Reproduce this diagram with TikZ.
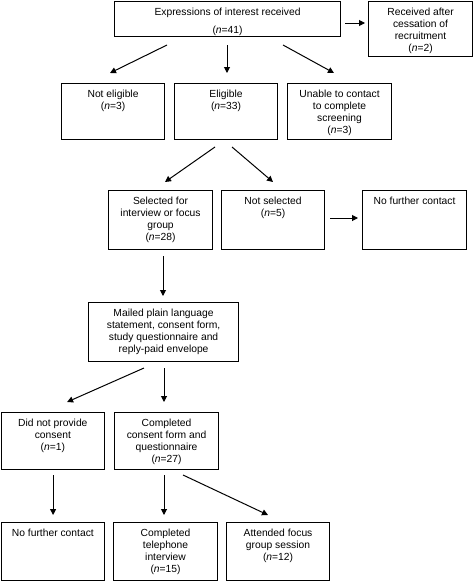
\documentclass[tikz,border=0pt]{standalone}
\usepackage{fontspec}
\setmainfont{Liberation Sans}
\usetikzlibrary{arrows.meta,calc}
\newcommand{\bxt}[3]{\parbox[t][#2pt][t]{#1pt}{\centering\rule{0pt}{14pt}#3\par}}
\newcommand{\nn}{\textit{n}}
\begin{document}
\begin{tikzpicture}[x=1pt,y=-1pt,
  box/.style={draw, line width=1.1pt, inner sep=0pt, anchor=north west,
    font=\fontsize{10.3pt}{12pt}\selectfont},
  arr/.style={line width=1pt, -{Triangle[length=6pt,width=6pt]}}]
\useasboundingbox (0,0) rectangle (473,581);
% row 0
\node[box] (A) at (114,0.8) {\bxt{226}{35}{Expressions of interest received\\[6pt](\nn=41)}};
\node[box] (R) at (368,0.8) {\bxt{104}{55.5}{Received after\\cessation of\\recruitment\\(\nn=2)}};
% row 1
\node[box] (NE) at (61,83) {\bxt{103}{56}{Not eligible\\(\nn=3)}};
\node[box] (E) at (174,83) {\bxt{103}{56}{Eligible\\(\nn=33)}};
\node[box] (U) at (287,83) {\bxt{104}{56}{Unable to contact\\to complete\\screening\\(\nn=3)}};
% row 2
\node[box] (S) at (108,190) {\bxt{104}{59}{Selected for\\interview or focus\\group\\(\nn=28)}};
\node[box] (NS) at (221,190) {\bxt{103}{59}{Not selected\\(\nn=5)}};
\node[box] (NF1) at (362,190) {\bxt{104}{59}{No further contact}};
% row 3
\node[box] (M) at (88,302) {\bxt{150}{59}{Mailed plain language\\statement, consent form,\\study questionnaire and\\reply-paid envelope}};
% row 4
\node[box] (D) at (0.6,412) {\bxt{103.4}{57}{Did not provide\\consent\\(\nn=1)}};
\node[box] (C) at (114,412) {\bxt{104}{57}{Completed\\consent form and\\questionnaire\\(\nn=27)}};
% row 5
\node[box] (NF2) at (0.6,522) {\bxt{103.4}{58}{No further contact}};
\node[box] (T) at (113,522) {\bxt{104}{58}{Completed\\telephone\\interview\\(\nn=15)}};
\node[box] (F) at (226,522) {\bxt{103}{58}{Attended focus\\group session\\(\nn=12)}};
% arrows
\draw[arr] ($(A.north west)+(231,22.2)$) -- ($(R.north west)+(-3,22.2)$);
\draw[arr] ($(A.north west)+(53,44.2)$) -- ($(NE.north west)+(49,-10)$);
\draw[arr] ($(A.north west)+(113,44.2)$) -- ($(E.north west)+(53,-10)$);
\draw[arr] ($(A.north west)+(169,44.2)$) -- ($(U.north west)+(47,-10)$);
\draw[arr] ($(E.north west)+(41,64)$) -- ($(S.north west)+(57,-8)$);
\draw[arr] ($(E.north west)+(58,64)$) -- ($(NS.north west)+(52,-8)$);
\draw[arr] ($(NS.north west)+(109,28)$) -- ($(NF1.north west)+(-4,28)$);
\draw[arr] ($(S.north west)+(55,66)$) -- ($(M.north west)+(75,-6)$);
\draw[arr] ($(M.north west)+(56,66)$) -- ($(D.north west)+(66.5,-10)$);
\draw[arr] ($(M.north west)+(76,66)$) -- ($(C.north west)+(50,-10)$);
\draw[arr] ($(D.north west)+(52.5,63)$) -- ($(NF2.north west)+(52.5,-7)$);
\draw[arr] ($(C.north west)+(50,63)$) -- ($(T.north west)+(51,-7)$);
\draw[arr] ($(C.north west)+(69,63)$) -- ($(F.north west)+(42,-7)$);
\end{tikzpicture}
\end{document}
